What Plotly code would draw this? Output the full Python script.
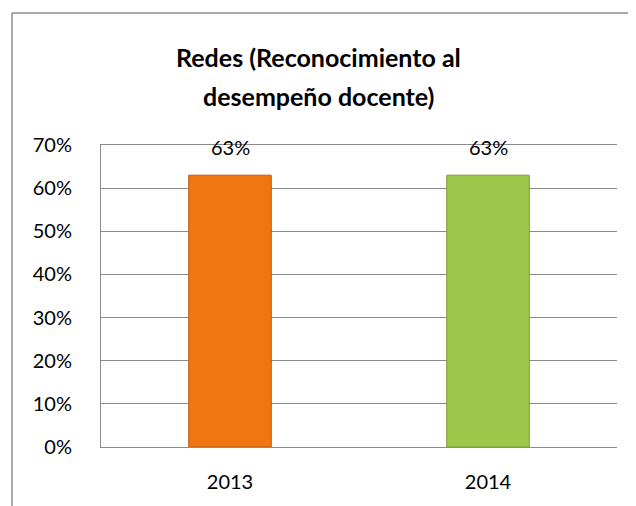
import plotly.graph_objects as go

categories = ["2013", "2014"]
values = [0.63, 0.63]
bar_colors = ["#F07612", "#9BC84A"]
line_colors = ["#C45A0A", "#7A9E36"]
value_labels = ["63%", "63%"]
tick_vals = [0, 0.1, 0.2, 0.3, 0.4, 0.5, 0.6, 0.7]
tick_text = ["0%", "10%", "20%", "30%", "40%", "50%", "60%", "70%"]
title_lines = ["Redes (Reconocimiento al", "desempeño docente)"]

FONT = "Lato"
OFF = 8  # page body margin

fig = go.Figure()
fig.add_trace(go.Bar(
    x=categories, y=values,
    marker=dict(color=bar_colors, line=dict(color=line_colors, width=1)),
    width=0.32,
))

W, H = 636 - OFF, 506 - OFF
ml, mr, mt, mb = 101 - OFF, 19, 145 - OFF, 59
pw = W - ml - mr
ph = H - mt - mb

def px(x):
    return (x - OFF - ml) / pw

def py(y):
    return (H - mb - (y - OFF)) / ph

shapes = [
    dict(type="line", xref="paper", yref="paper", x0=px(12), x1=px(12), y0=py(530), y1=py(13),
         line=dict(color="#8C8C8C", width=1.5)),
    dict(type="line", xref="paper", yref="paper", x0=px(12), x1=px(660), y0=py(13), y1=py(13),
         line=dict(color="#8C8C8C", width=1.5)),
]

annotations = [
    dict(text="<b>%s</b>" % title_lines[0], xref="paper", yref="paper", x=px(318), y=py(57),
         showarrow=False, font=dict(family=FONT, size=25, color="#000000"), xanchor="center", yanchor="middle"),
    dict(text="<b>%s</b>" % title_lines[1], xref="paper", yref="paper", x=px(318), y=py(96),
         showarrow=False, font=dict(family=FONT, size=25, color="#000000"), xanchor="center", yanchor="middle"),
]
for i, (v, t) in enumerate(zip(values, value_labels)):
    annotations.append(dict(text=t, x=i, y=v, xref="x", yref="y", showarrow=False,
                            yshift=28, yanchor="middle", xanchor="center",
                            font=dict(family=FONT, size=20, color="#000000")))

fig.update_layout(
    width=W, height=H,
    margin=dict(l=ml, r=mr, t=mt, b=mb),
    paper_bgcolor="#FFFFFF", plot_bgcolor="#FFFFFF",
    showlegend=False,
    shapes=shapes, annotations=annotations,
    font=dict(family=FONT, size=20, color="#000000"),
)
fig.update_yaxes(
    range=[0, 0.7], tickvals=tick_vals, ticktext=tick_text,
    showgrid=True, gridcolor="#8C8C8C", gridwidth=1,
    showline=True, linecolor="#8C8C8C", linewidth=1,
    ticks="", ticklabelstandoff=24,
    tickfont=dict(family=FONT, size=20), zeroline=False,
)
fig.update_xaxes(
    type="category", range=[-0.5, 1.5],
    showline=True, mirror=True, linecolor="#8C8C8C", linewidth=1,
    ticks="", tickfont=dict(family=FONT, size=20), ticklabelstandoff=17,
)

fig.write_html("out.html")
